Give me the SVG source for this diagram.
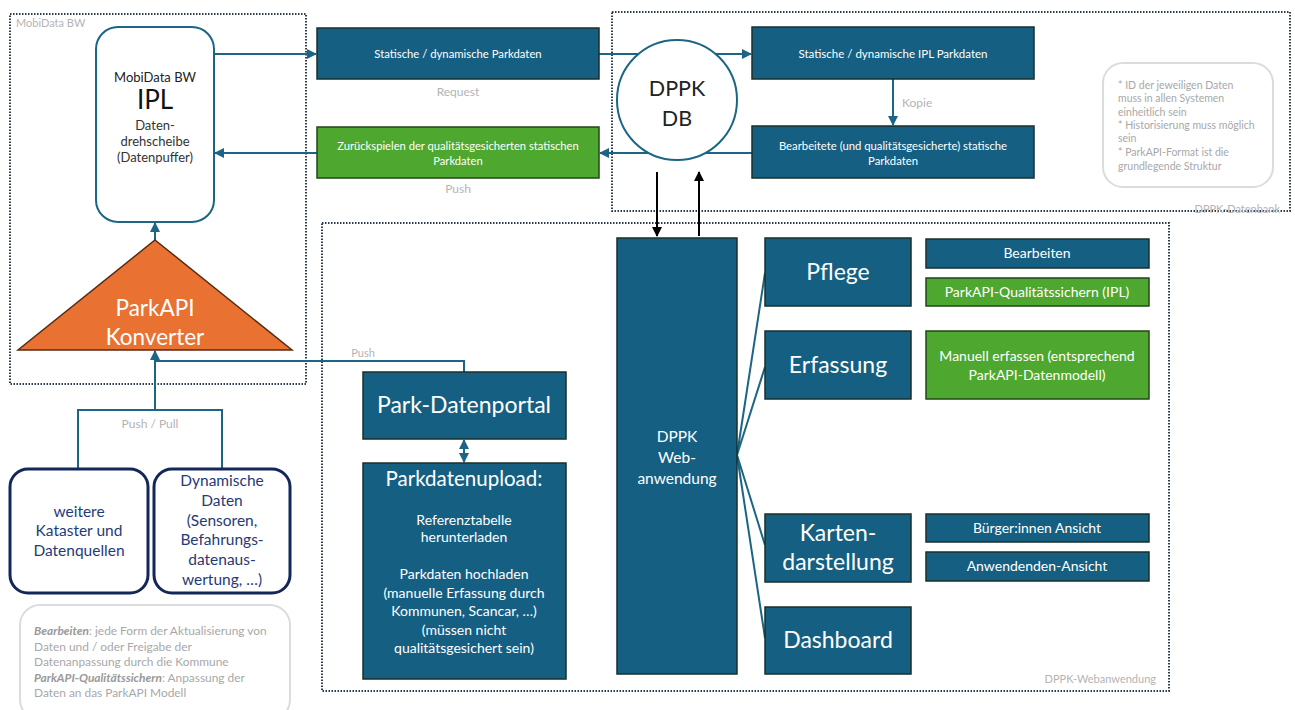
<svg xmlns="http://www.w3.org/2000/svg" width="1295" height="710" viewBox="0 0 1295 710">
<defs>
<style>
text{font-family:Lato,"Open Sans","Liberation Sans",sans-serif}
.dot{fill:none;stroke:#2e3b48;stroke-width:2;stroke-dasharray:1.5 1.5}
.blue{fill:#156082;stroke:#1a2f2a;stroke-width:1.5}
.green{fill:#4ea72e;stroke:#23461a;stroke-width:1.5}
.wt{fill:#fff;text-anchor:middle}
.gl{fill:#b4b4b4}
.conn{fill:none;stroke:#1b6585;stroke-width:2}
.blk{fill:none;stroke:#000;stroke-width:2}
.nav{fill:#fff;stroke:#13275a;stroke-width:3}
.nt{fill:#1f3b78;text-anchor:middle;font-size:15.5px}
.note{fill:#fff;stroke:#dcdcdc;stroke-width:2}
.nx{fill:#a8a8a8;font-size:10.5px}
.nb{fill:#a8a8a8;font-size:11.9px}
.sm{font-size:14px}
.up{font-size:14px}
.big{font-size:23px}
</style>
<marker id="ab" viewBox="0 0 10 10" refX="9" refY="5" markerWidth="5" markerHeight="5" orient="auto-start-reverse"><path d="M0,0 L10,5 L0,10 z" fill="#1b6585"/></marker>
<marker id="ak" viewBox="0 0 10 10" refX="9" refY="5" markerWidth="5" markerHeight="5" orient="auto-start-reverse"><path d="M0,0 L10,5 L0,10 z" fill="#000"/></marker>
</defs>
<rect width="1295" height="710" fill="#fff"/>

<g id="area-mobidata">
<rect class="dot" x="10" y="14" width="296" height="370"/>
<text x="16" y="27" class="gl" font-size="11">MobiData BW</text>
</g>
<g id="area-datenbank">
<rect class="dot" x="612" y="12" width="678" height="199"/>
<text x="1280" y="213" class="gl" font-size="11" text-anchor="end">DPPK-Datenbank</text>
</g>
<g id="area-webanwendung">
<rect class="dot" x="322" y="223" width="847" height="468"/>
<text x="1156" y="683" class="gl" font-size="11" text-anchor="end">DPPK-Webanwendung</text>
</g>

<g id="connectors">
<line class="conn" x1="214" y1="54" x2="316" y2="54" marker-end="url(#ab)"/>
<line class="conn" x1="599" y1="54" x2="751" y2="54" marker-end="url(#ab)"/>
<line class="conn" x1="893" y1="79" x2="893" y2="125" marker-end="url(#ab)"/>
<line class="conn" x1="752" y1="153" x2="600" y2="153" marker-end="url(#ab)"/>
<line class="conn" x1="317" y1="153" x2="215" y2="153" marker-end="url(#ab)"/>
<line class="conn" x1="155" y1="240" x2="155" y2="223" marker-end="url(#ab)"/>
<path class="conn" d="M78,470 V410 H222 V470"/>
<line class="conn" x1="155" y1="410" x2="155" y2="351" marker-end="url(#ab)"/>
<path class="conn" d="M464,372 V361 H155"/>
<line class="conn" x1="464" y1="440" x2="464" y2="462" marker-start="url(#ab)" marker-end="url(#ab)"/>
<line class="blk" x1="657" y1="172" x2="657" y2="236" marker-end="url(#ak)"/>
<line class="blk" x1="699" y1="236" x2="699" y2="172" marker-end="url(#ak)"/>
<path class="conn" d="M737,455 L765,273 M737,455 L765,367 M737,455 L765,545 M737,455 L765,638"/>
<text x="458" y="96" class="gl" font-size="12" text-anchor="middle">Request</text>
<text x="458" y="193" class="gl" font-size="12" text-anchor="middle">Push</text>
<text x="902" y="107" class="gl" font-size="12">Kopie</text>
<text x="150" y="428" class="gl" font-size="12" text-anchor="middle">Push / Pull</text>
<text x="363" y="357" class="gl" font-size="11" text-anchor="middle">Push</text>
</g>

<g id="ipl">
<rect x="96" y="27" width="118" height="195" rx="22" fill="#fff" stroke="#1b6585" stroke-width="2"/>
<text x="155" y="82" font-size="13" fill="#222" text-anchor="middle">MobiData BW</text>
<text x="155" y="109" font-size="26" fill="#111" text-anchor="middle">IPL</text>
<text x="155" y="130" font-size="13" fill="#333" text-anchor="middle">Daten-</text>
<text x="155" y="146" font-size="13" fill="#333" text-anchor="middle">drehscheibe</text>
<text x="155" y="162" font-size="13" fill="#333" text-anchor="middle">(Datenpuffer)</text>
</g>

<g id="konverter">
<polygon points="155,240 292,350 18,350" fill="#e97132" stroke="#5b2a10" stroke-width="1.5"/>
<text x="155" y="316" class="wt" font-size="22.5">ParkAPI</text>
<text x="155" y="345" class="wt" font-size="22.5">Konverter</text>
</g>

<g id="parkdaten-request">
<rect class="blue" x="317" y="28" width="282" height="51"/>
<text x="458" y="58" class="wt" font-size="11.3">Statische / dynamische Parkdaten</text>
</g>
<g id="parkdaten-push">
<rect class="green" x="317" y="127" width="282" height="51"/>
<text x="458" y="150" class="wt" font-size="11.2">Zurückspielen der qualitätsgesicherten statischen</text>
<text x="458" y="165" class="wt" font-size="11.2">Parkdaten</text>
</g>

<g id="dppk-db">
<circle cx="677" cy="100" r="60" fill="#fff" stroke="#1b6585" stroke-width="2"/>
<text x="677" y="96" font-size="21.5" fill="#222" text-anchor="middle">DPPK</text>
<text x="677" y="126" font-size="21.5" fill="#222" text-anchor="middle">DB</text>
</g>

<g id="ipl-parkdaten">
<rect class="blue" x="752" y="27" width="282" height="52"/>
<text x="893" y="58" class="wt" font-size="11.5">Statische / dynamische IPL Parkdaten</text>
</g>
<g id="bearbeitete-parkdaten">
<rect class="blue" x="752" y="126" width="282" height="52"/>
<text x="893" y="150" class="wt" font-size="11.3">Bearbeitete (und qualitätsgesicherte) statische</text>
<text x="893" y="165" class="wt" font-size="11.3">Parkdaten</text>
</g>

<g id="note-datenbank">
<rect class="note" x="1103" y="63" width="170" height="124" rx="20"/>
<text class="nx" x="1118" y="89">* ID der jeweiligen Daten</text>
<text class="nx" x="1118" y="102">muss in allen Systemen</text>
<text class="nx" x="1118" y="116">einheitlich sein</text>
<text class="nx" x="1118" y="129">* Historisierung muss möglich</text>
<text class="nx" x="1118" y="142">sein</text>
<text class="nx" x="1118" y="156">* ParkAPI-Format ist die</text>
<text class="nx" x="1118" y="170">grundlegende Struktur</text>
</g>

<g id="weitere-kataster">
<rect class="nav" x="10" y="469" width="138" height="124" rx="18"/>
<text class="nt" x="79" y="517">weitere</text>
<text class="nt" x="79" y="536">Kataster und</text>
<text class="nt" x="79" y="556">Datenquellen</text>
</g>
<g id="dynamische-daten">
<rect class="nav" x="154" y="469" width="136" height="124" rx="18"/>
<text class="nt" x="222" y="486">Dynamische</text>
<text class="nt" x="222" y="506">Daten</text>
<text class="nt" x="222" y="526">(Sensoren,</text>
<text class="nt" x="222" y="545">Befahrungs-</text>
<text class="nt" x="222" y="565">datenaus-</text>
<text class="nt" x="222" y="585">wertung, …)</text>
</g>

<g id="note-begriffe">
<rect class="note" x="20" y="605" width="270" height="115" rx="20"/>
<text class="nb" x="34" y="635"><tspan font-weight="bold" font-style="italic" fill="#999">Bearbeiten</tspan>: jede Form der Aktualisierung von</text>
<text class="nb" x="34" y="651">Daten und / oder Freigabe der</text>
<text class="nb" x="34" y="666">Datenanpassung durch die Kommune</text>
<text class="nb" x="34" y="682"><tspan font-weight="bold" font-style="italic" fill="#999">ParkAPI-Qualitätssichern</tspan>: Anpassung der</text>
<text class="nb" x="34" y="697">Daten an das ParkAPI Modell</text>
</g>

<g id="park-datenportal">
<rect class="blue" x="363" y="372" width="203" height="67"/>
<text x="464" y="413" class="wt" font-size="23">Park-Datenportal</text>
</g>
<g id="parkdatenupload">
<rect class="blue" x="363" y="463" width="203" height="216"/>
<text x="464" y="486" class="wt" font-size="20.5">Parkdatenupload:</text>
<text x="464" y="525" class="wt up">Referenztabelle</text>
<text x="464" y="542" class="wt up">herunterladen</text>
<text x="464" y="579" class="wt up">Parkdaten hochladen</text>
<text x="464" y="598" class="wt up">(manuelle Erfassung durch</text>
<text x="464" y="616" class="wt up">Kommunen, Scancar, …)</text>
<text x="464" y="635" class="wt up">(müssen nicht</text>
<text x="464" y="653" class="wt up">qualitätsgesichert sein)</text>
</g>

<g id="dppk-webanwendung">
<rect class="blue" x="617" y="238" width="120" height="436"/>
<text x="677" y="442" class="wt" font-size="15.5">DPPK</text>
<text x="677" y="463" class="wt" font-size="15.5">Web-</text>
<text x="677" y="484" class="wt" font-size="15.5">anwendung</text>
</g>

<g id="pflege">
<rect class="blue" x="765" y="238" width="146" height="68"/>
<text x="838" y="280" class="wt big">Pflege</text>
</g>
<g id="erfassung">
<rect class="blue" x="765" y="331" width="146" height="68"/>
<text x="838" y="373" class="wt big">Erfassung</text>
</g>
<g id="kartendarstellung">
<rect class="blue" x="765" y="514" width="146" height="68"/>
<text x="838" y="541" class="wt big">Karten-</text>
<text x="838" y="570" class="wt big">darstellung</text>
</g>
<g id="dashboard">
<rect class="blue" x="765" y="607" width="146" height="67"/>
<text x="838" y="648" class="wt big">Dashboard</text>
</g>

<g id="bearbeiten">
<rect class="blue" x="926" y="239" width="223" height="29"/>
<text x="1037" y="258" class="wt sm">Bearbeiten</text>
</g>
<g id="qualitaetssichern">
<rect class="green" x="926" y="278" width="223" height="28"/>
<text x="1037" y="297" class="wt sm">ParkAPI-Qualitätssichern (IPL)</text>
</g>
<g id="manuell-erfassen">
<rect class="green" x="926" y="331" width="223" height="68"/>
<text x="1037" y="361" class="wt sm">Manuell erfassen (entsprechend</text>
<text x="1037" y="380" class="wt sm">ParkAPI-Datenmodell)</text>
</g>
<g id="buerger-ansicht">
<rect class="blue" x="926" y="514" width="223" height="28"/>
<text x="1037" y="533" class="wt sm">Bürger:innen Ansicht</text>
</g>
<g id="anwender-ansicht">
<rect class="blue" x="926" y="552" width="223" height="29"/>
<text x="1037" y="571" class="wt sm">Anwendenden-Ansicht</text>
</g>
</svg>
